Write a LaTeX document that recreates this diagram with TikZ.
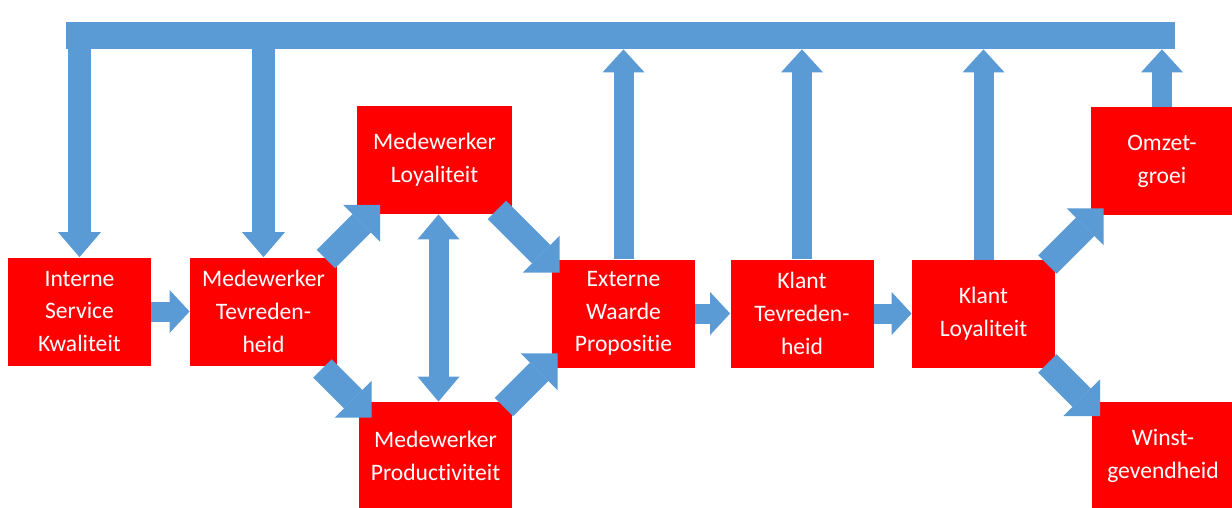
\documentclass[tikz,border=0pt]{standalone}
\usepackage{fontspec}
\setmainfont{Carlito}[Ligatures=NoCommon]
\usepackage{xcolor}
\usetikzlibrary{arrows.meta, positioning, calc}
\definecolor{flowblue}{HTML}{5B9BD5}
\definecolor{boxred}{HTML}{FF0000}

\begin{document}
\begin{tikzpicture}[x=0.5pt, y=-0.5pt,
    box/.style={rectangle, fill=boxred, text=white, align=center, inner sep=0pt,
        minimum width=71.5pt, minimum height=54pt, font=\fontsize{11.8}{16.4}\selectfont},
    flow/.style={draw=flowblue, line width=10pt, -{Triangle[length=10pt, width=21.5pt, line width=0pt]}},
    upflow/.style={draw=flowblue, line width=10pt, -{Triangle[length=11.5pt, width=21pt, line width=0pt]}},
    downflow/.style={draw=flowblue, line width=11.5pt, -{Triangle[length=12.5pt, width=21.5pt, line width=0pt]}},
    diagflow/.style={draw=flowblue, line width=13pt, -{Triangle[length=13pt, width=26pt, line width=0pt]}}]
    \clip (0,0) rectangle (1232,508);
    \fill[white] (0,0) rectangle (1232,508);

    % feedback bar
    \node[fill=flowblue, inner sep=0pt, minimum width=554.5pt, minimum height=13.5pt] (bar) at (620.5,35.5) {};

    % boxes
    \node[box] (isk) at (79.5,311.5) {Interne\\Service\\Kwaliteit};
    \node[box, minimum width=73.5pt] (mt) at (263.5,311.5) {Medewerker\\Tevreden-\\heid};
    \node[box, minimum width=77.5pt] (ml) at (434.5,160) {Medewerker\\Loyaliteit};
    \node[box, minimum width=76.5pt] (mp) at (435.5,456) {Medewerker\\Productiviteit};
    \node[box] (ewp) at (623.5,313.5) {Externe\\Waarde\\Propositie};
    \node[box] (kt) at (802,313.5) {Klant\\Tevreden-\\heid};
    \node[box] (kl) at (983.5,314) {Klant\\Loyaliteit};
    \node[box] (og) at (1162,161) {Omzet-\\groei};
    \node[box] (wg) at (1163,456) {Winst-\\gevendheid};

    % from the bar down
    \draw[downflow] (bar -| isk.north) -- (isk.north);
    \draw[downflow] (bar -| mt.north) -- (mt.north);

    % back up to the bar
    \draw[upflow] (ewp.north) -- (ewp.north |- bar.south);
    \draw[upflow] (kt.north) -- (kt.north |- bar.south);
    \draw[upflow] (kl.north) -- (kl.north |- bar.south);
    \draw[upflow] (og.north) -- (og.north |- bar.south);

    % chain
    \draw[flow] (isk.east) -- (mt.west);
    \draw[flow] (ewp.east) -- (kt.west);
    \draw[flow] (kt.east) -- (kl.west |- kt.east);
    \draw[flow, {Triangle[length=12.5pt, width=21pt, line width=0pt]}-{Triangle[length=12.5pt, width=21pt, line width=0pt]}]
        ($(ml.south)+(4,0)$) -- ($(ml.south |- mp.north)+(4,0)$);

    % diagonals
    \draw[diagflow] ($(mt.north east)+(-11.5,2)$) -- ($(ml.south west)+(23.5,-9.5)$);
    \draw[diagflow] ($(mt.south east)+(-15,2.5)$) -- ($(mp.north west)+(13,16)$);
    \draw[diagflow] ($(ml.south east)+(-15.5,-4.5)$) -- ($(ewp.north west)+(8,13.5)$);
    \draw[diagflow] ($(mp.north east)+(-8.5,5.5)$) -- ($(ewp.south west)+(6,-14.5)$);
    \draw[diagflow] ($(kl.north east)+(-8,5)$) -- ($(og.south west)+(13.5,-7)$);
    \draw[diagflow] ($(kl.south east)+(-8,-5)$) -- ($(wg.north west)+(9,14.5)$);
\end{tikzpicture}
\end{document}
